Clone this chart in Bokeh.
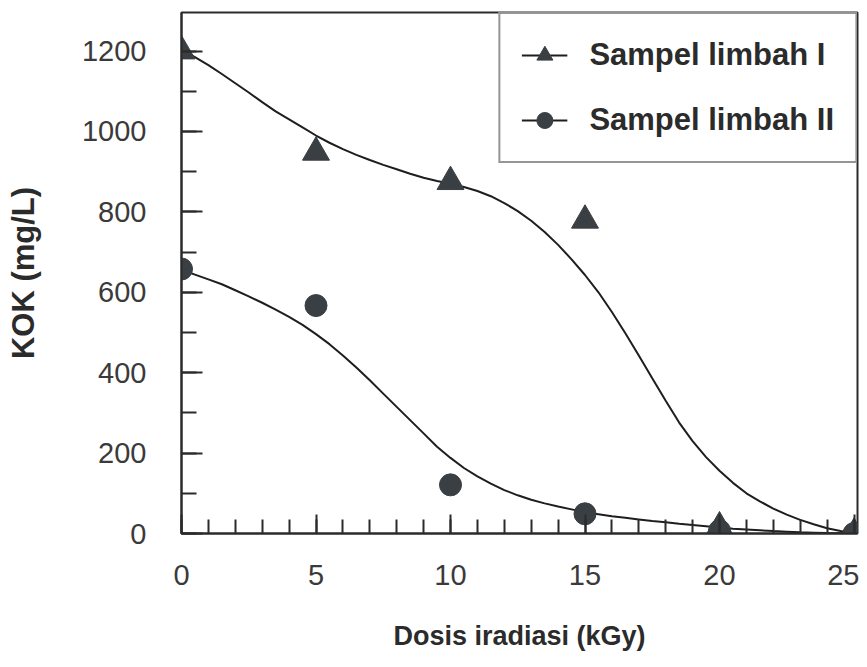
from bokeh.plotting import figure
from bokeh.models import Range1d, SingleIntervalTicker, Legend, LegendItem
from bokeh.embed import file_html
from bokeh.resources import INLINE

# measured data points
dose = [0, 5, 10, 15, 20, 25]
kok_limbah_1 = [1200, 948, 875, 779, 16, 0]
kok_limbah_2 = [658, 567, 121, 49, 7, 0]

# fitted curves, every 0.5 kGy
curve_dose = [0, 0.5, 1, 1.5, 2, 2.5, 3, 3.5, 4, 4.5, 5, 5.5, 6, 6.5, 7, 7.5, 8, 8.5,
              9, 9.5, 10, 10.5, 11, 11.5, 12, 12.5, 13, 13.5, 14, 14.5, 15, 15.5, 16,
              16.5, 17, 17.5, 18, 18.5, 19, 19.5, 20, 20.5, 21, 21.5, 22, 22.5, 23,
              23.5, 24, 24.5, 25]
curve_limbah_1 = [1203, 1185, 1165, 1143, 1120, 1097, 1073, 1050, 1030, 1010, 990, 972,
                  956, 942, 929, 917, 906, 895, 885, 877, 870, 862, 852, 839, 822, 802,
                  778, 750, 718, 682, 643, 600, 551, 498, 443, 386, 330, 276, 230, 190,
                  156, 126, 100, 80, 62, 47, 34, 23, 13, 6, 0]
curve_limbah_2 = [656, 644, 632, 620, 605, 590, 574, 557, 539, 519, 496, 471, 443, 413,
                  381, 348, 315, 282, 249, 216, 188, 163, 142, 124, 108, 95, 84, 75, 67,
                  60, 53, 48, 43, 39, 35, 31, 28, 24, 21, 18, 15, 12, 10, 8, 6, 4.5, 3,
                  2, 1, 0.5, 0]

labels = ["Sampel limbah I", "Sampel limbah II"]
x_title = "Dosis iradiasi (kGy)"
y_title = "KOK (mg/L)"

FONT = "Liberation Sans"
INK = "#2b2b2b"
MARK = "#3a3f43"

p = figure(frame_width=676, frame_height=521,
           min_border_left=181, min_border_right=2, min_border_top=12, min_border_bottom=125,
           x_range=Range1d(0, 25.13), y_range=Range1d(0, 1296),
           output_backend="svg", toolbar_location=None)
p.grid.visible = False
p.background_fill_color = "white"
p.border_fill_color = "white"
p.outline_line_color = INK
p.outline_line_width = 2

p.xaxis.ticker = SingleIntervalTicker(interval=5, num_minor_ticks=5)
p.yaxis.ticker = SingleIntervalTicker(interval=200, num_minor_ticks=2)
for ax in (p.xaxis[0], p.yaxis[0]):
    ax.axis_line_color = INK
    ax.axis_line_width = 2
    ax.major_tick_line_color = INK
    ax.minor_tick_line_color = INK
    ax.major_tick_line_width = 2
    ax.minor_tick_line_width = 2
    ax.major_tick_out = 0
    ax.minor_tick_out = 0
    ax.major_label_text_font = FONT
    ax.major_label_text_font_size = "29px"
    ax.major_label_text_color = "#3a3a3a"
    ax.axis_label_text_font = FONT
    ax.axis_label_text_font_style = "bold"
    ax.axis_label_text_color = INK

p.xaxis.major_tick_in = 19
p.xaxis.minor_tick_in = 14
p.yaxis.major_tick_in = 21
p.yaxis.minor_tick_in = 15
p.xaxis.major_label_standoff = 31
p.yaxis.major_label_standoff = 35
p.xaxis.axis_label = x_title
p.yaxis.axis_label = y_title
p.xaxis.axis_label_text_font_size = "27px"
p.yaxis.axis_label_text_font_size = "31px"
p.xaxis.axis_label_standoff = 33
p.yaxis.axis_label_standoff = 38

l1 = p.line(curve_dose, curve_limbah_1, line_color="#1e1e1e", line_width=2)
l2 = p.line(curve_dose, curve_limbah_2, line_color="#1e1e1e", line_width=2)
s1 = p.scatter(dose, kok_limbah_1, marker="triangle", size=27,
               fill_color=MARK, line_color=MARK)
s2 = p.scatter(dose, kok_limbah_2, marker="circle", size=22,
               fill_color=MARK, line_color=MARK)

legend = Legend(items=[LegendItem(label=labels[0], renderers=[l1, s1]),
                       LegendItem(label=labels[1], renderers=[l2, s2])],
                location="top_right", margin=0,
                label_text_font=FONT, label_text_font_style="bold",
                label_text_font_size="31px", label_text_color=INK,
                glyph_width=46, glyph_height=40, label_height=40,
                label_standoff=22, spacing=25, padding=21,
                border_line_color=INK, border_line_width=2,
                background_fill_alpha=1.0)
p.add_layout(legend)

open("out.html", "w").write(file_html(p, INLINE))
